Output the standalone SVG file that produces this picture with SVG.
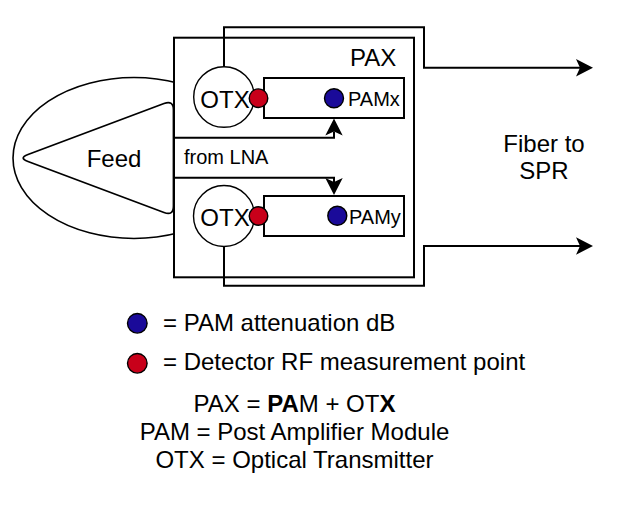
<svg xmlns="http://www.w3.org/2000/svg" width="620" height="509" viewBox="0 0 620 509">
<defs>
<style>
text{font-family:"Liberation Sans",Arial,Helvetica,sans-serif;fill:#000}
.big{font-size:24px}
.med{font-size:20px}
.ln{fill:none;stroke:#000;stroke-width:2}
.otx{fill:#fff;stroke:#000;stroke-width:1.4}
.box{fill:#fff;stroke:#000;stroke-width:2}
.red{fill:#C8001A;stroke:#000;stroke-width:1.4}
.blue{fill:#1A0A99;stroke:#000;stroke-width:1.4}
</style>
<marker id="arr" markerUnits="userSpaceOnUse" markerWidth="18" markerHeight="18" viewBox="0 0 18 18" refX="4" refY="9" orient="auto">
<path d="M0,0.3 L17,9 L0,17.7 L4,9 Z" fill="#000"/>
</marker>
</defs>
<rect width="620" height="509" fill="#fff"/>

<g id="feed">
<ellipse cx="134" cy="158" rx="121" ry="80.5" fill="#fff" stroke="#000" stroke-width="1.6"/>
<path d="M28,154.5 L164,103.5 Q173.5,100 173.5,110 L173.5,206 Q173.5,216 164,212.5 L28,161.5 Q18.5,158 28,154.5 Z" fill="#fff" stroke="#000" stroke-width="1.8"/>
<text class="big" x="114" y="167.3" text-anchor="middle">Feed</text>
</g>

<g id="pax">
<rect class="box" x="174" y="37.7" width="240" height="239.6"/>
<text class="big" x="350" y="65.7">PAX</text>
</g>

<g id="connectors">
<path class="ln" d="M224,67 V27.3 H424 V67.7 H580" marker-end="url(#arr)"/>
<path class="ln" d="M224,246.5 V285.7 H424 V246 H580" marker-end="url(#arr)"/>
<path class="ln" d="M174,137.7 H334 V131.5" marker-end="url(#arr)"/>
<path class="ln" d="M174,177.7 H334 V182" marker-end="url(#arr)"/>
</g>

<g id="from-lna">
<text class="med" x="184" y="164.3">from LNA</text>
</g>

<g id="otx-top">
<circle class="otx" cx="224" cy="97" r="30.3"/>
<text class="big" x="225" y="108.3" text-anchor="middle">OTX</text>
</g>
<g id="otx-bottom">
<circle class="otx" cx="224" cy="216" r="30.5"/>
<text class="big" x="225" y="225.5" text-anchor="middle">OTX</text>
</g>

<g id="pamx">
<rect class="box" x="264" y="78" width="140" height="40"/>
<circle class="blue" cx="334" cy="98.3" r="9.5"/>
<text class="med" x="348" y="105.7">PAMx</text>
</g>
<g id="pamy">
<rect class="box" x="264" y="196" width="140" height="40"/>
<circle class="blue" cx="337.3" cy="215.7" r="9.5"/>
<text class="med" x="349" y="224">PAMy</text>
</g>

<g id="detector-top">
<circle class="red" cx="258.5" cy="98.2" r="9.3"/>
</g>
<g id="detector-bottom">
<circle class="red" cx="258.5" cy="216" r="9.3"/>
</g>

<g id="fiber-label">
<text class="big" x="544" y="151.7" text-anchor="middle">Fiber to</text>
<text class="big" x="544" y="179.3" text-anchor="middle">SPR</text>
</g>

<g id="legend">
<circle class="blue" cx="137.3" cy="323.3" r="9.8"/>
<text class="big" x="163" y="331">= PAM attenuation dB</text>
<circle class="red" cx="137.3" cy="363.3" r="9.8"/>
<text class="big" x="163" y="370">= Detector RF measurement point</text>
</g>

<g id="definitions">
<text class="big" x="294.5" y="411.7" text-anchor="middle">PAX = <tspan font-weight="bold">PA</tspan>M + OT<tspan font-weight="bold">X</tspan></text>
<text class="big" x="294.5" y="440" text-anchor="middle">PAM = Post Amplifier Module</text>
<text class="big" x="294.5" y="467.7" text-anchor="middle">OTX = Optical Transmitter</text>
</g>
</svg>
